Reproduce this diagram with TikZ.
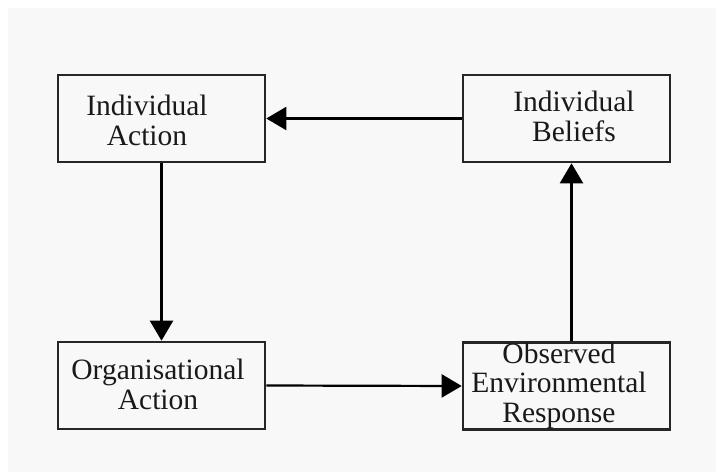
\documentclass[tikz,border=0pt]{standalone}
\usepackage{fontspec}
\setmainfont{Liberation Serif}
\usepackage{xcolor}
\usetikzlibrary{arrows.meta}
\definecolor{paper}{HTML}{F8F8F8}
\tikzset{
    plain-box/.style = {draw=black!85, line width=2.6pt, rectangle, minimum width=207pt, minimum height=87pt, inner sep=0pt},
    box-text/.style = {align=center, inner sep=0pt, anchor=base, text=black!90, font=\fontsize{29.5}{29.5}\selectfont},
    flow-arrow/.style = {draw=black, line width=2.2pt, -{Triangle[length=20pt,width=23pt]}},
}

\begin{document}
\begin{tikzpicture}[x=1pt,y=-1pt]
\useasboundingbox (0,0) rectangle (716,472);
\fill[paper] (8,8) rectangle (716,472);

\node [plain-box] (ind-action) at (161.5,118.5) {};
\node [plain-box] (ind-beliefs) at (566.5,118.5) {};
\node [plain-box] (org-action) at (161.5,385.5) {};
\node [plain-box] (env-response) at (566.5,386) {};

% text sits at the baseline of its last line
\node [box-text] (ind-action-text) at (147,145) {Individual\\Action};
\node [box-text] (ind-beliefs-text) at (574,141) {Individual\\Beliefs};
\node [box-text] (org-action-text) at (158,409) {Organisational\\Action};
\node [box-text] (env-response-text) at (559,422) {Observed\\Environmental\\Response};

\coordinate (up-start) at (571.5,0 |- env-response.north);
\coordinate (up-end) at (571.5,0 |- ind-beliefs.south);

\draw [flow-arrow] (ind-beliefs.west) -- (ind-action.east);
\draw [flow-arrow] (ind-action.south) -- (org-action.north);
\draw [flow-arrow] (org-action.east) -- (env-response.west);
\draw [flow-arrow] (up-start) -- (up-end);
\end{tikzpicture}
\end{document}
